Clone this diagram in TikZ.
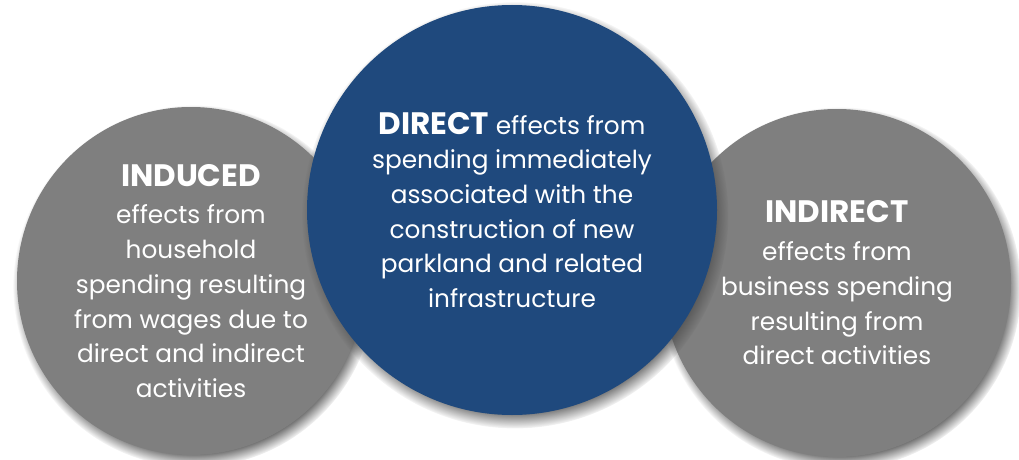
\documentclass[tikz,border=0pt]{standalone}
\usepackage{fontspec}
\setmainfont{Poppins}
\usetikzlibrary{shadows}
\definecolor{directblue}{HTML}{1F497D}
\definecolor{effectgray}{HTML}{7F7F7F}
\def\sider{174pt}
\def\mainr{205pt}
\newcommand{\effecthead}[1]{{\fontsize{31}{34.7}\selectfont\bfseries #1}}

\begin{document}
\begin{tikzpicture}[x=1pt,y=-1pt]
    \tikzstyle{effect}=[circle, inner sep=0pt, text=white, align=center,
        font=\fontsize{24.8}{34.7}\selectfont,
        circular drop shadow={shadow scale=1.04, shadow xshift=3pt, shadow yshift=-5pt,
            fill=black!70, path fading={circle with fuzzy edge 10 percent}}]
    \tikzstyle{side effect}=[effect, fill=effectgray, minimum size=2*\sider]
    \tikzstyle{main effect}=[effect, fill=directblue, minimum size=2*\mainr]

    \useasboundingbox (0,0) rectangle (1019,460);

    % Draw the two side circles first
    \node[side effect] (induced) at (191,281)
        {\effecthead{INDUCED}\\[3pt] effects from\\ household\\ spending resulting\\
         from wages due to\\ direct and indirect\\ activities};
    \node[side effect] (indirect) at (837,283)
        {\effecthead{INDIRECT}\\[3pt] effects from\\ business spending\\ resulting from\\
         direct activities};

    % Draw the main circle on top of them
    \node[main effect] (direct) at (512,210)
        {\effecthead{DIRECT} effects from\\ spending immediately\\ associated with the\\
         construction of new\\ parkland and related\\ infrastructure};
\end{tikzpicture}
\end{document}
